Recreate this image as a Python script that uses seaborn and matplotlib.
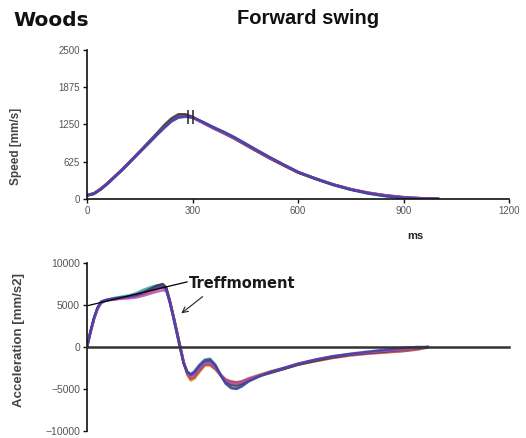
import numpy as np
import pandas as pd
import matplotlib
matplotlib.use("Agg")
import matplotlib.pyplot as plt
import seaborn as sns

# ── Data ──────────────────────────────────────────────────────────────────────
# draw order: last one ends up on top
TRIALS = ["orange", "teal", "red", "black", "magenta", "navy"]
COLORS = ["#d69a3a", "#3a9c9c", "#a8443c", "#333333", "#b84cb8", "#4040a8"]

SPEED_MS = [0, 20, 40, 60, 80, 100, 120, 140, 160, 180, 200, 220, 240, 260, 280,
            300, 330, 360, 390, 420, 450, 480, 520, 560, 600, 650, 700, 750, 800,
            850, 900, 950, 1000]
SPEED = {
    "navy":    [60, 90, 165, 265, 375, 485, 605, 725, 845, 965, 1085, 1200, 1305, 1370, 1385,
                1370, 1290, 1200, 1120, 1030, 930, 830, 700, 575, 455, 340, 240, 160, 95,
                50, 20, 5, 0],
    "teal":    [55, 85, 165, 265, 375, 485, 605, 725, 845, 960, 1080, 1195, 1300, 1365, 1380,
                1365, 1290, 1205, 1125, 1035, 935, 830, 695, 570, 450, 335, 235, 155, 90,
                45, 15, 3, 0],
    "black":   [60, 95, 175, 275, 385, 495, 615, 735, 860, 985, 1110, 1240, 1350, 1420, 1420,
                1375, 1280, 1190, 1105, 1015, 915, 815, 685, 565, 445, 340, 240, 160, 100,
                55, 25, 8, 0],
    "magenta": [65, 95, 170, 270, 380, 490, 610, 730, 850, 970, 1090, 1205, 1310, 1380, 1385,
                1365, 1275, 1185, 1105, 1015, 920, 820, 690, 570, 450, 345, 245, 165, 105,
                60, 30, 12, 0],
    "red":     [60, 90, 170, 275, 385, 495, 615, 735, 855, 975, 1095, 1215, 1325, 1395, 1395,
                1370, 1280, 1185, 1100, 1010, 910, 810, 680, 560, 445, 340, 245, 165, 105,
                60, 30, 12, 2],
    "orange":  [60, 90, 170, 270, 380, 490, 610, 730, 850, 970, 1090, 1215, 1330, 1405, 1405,
                1375, 1280, 1190, 1105, 1015, 915, 815, 685, 565, 445, 340, 240, 160, 100,
                55, 25, 10, 0],
}

ACC_MS = [0, 10, 20, 30, 40, 50, 60, 80, 100, 120, 140, 160, 180, 200, 215, 225, 235,
          245, 255, 265, 275, 285, 295, 305, 320, 335, 350, 365, 380, 395, 410, 425,
          440, 460, 490, 520, 560, 600, 650, 700, 750, 800, 850, 900, 940, 970]
ACC = {
    "navy":    [0, 1900, 3500, 4700, 5400, 5550, 5650, 5800, 5900, 6000, 6200, 6500, 6800, 7100,
                7250, 6900, 5400, 3600, 1700, -200, -2000, -3000, -3300, -3000, -2200, -1600,
                -1500, -2200, -3400, -4400, -4900, -5000, -4700, -4100, -3500, -3000, -2500,
                -2000, -1500, -1100, -800, -550, -300, -100, 0, 0],
    "teal":    [0, 1800, 3400, 4600, 5300, 5550, 5650, 5850, 6000, 6150, 6400, 6800, 7100, 7350,
                7300, 6900, 5500, 3700, 1800, -100, -1900, -2900, -3200, -2900, -2100, -1500,
                -1400, -2100, -3300, -4300, -4800, -4900, -4600, -4000, -3500, -3100, -2600,
                -2100, -1600, -1200, -900, -650, -450, -250, -100, 0],
    "black":   [0, 1800, 3400, 4600, 5300, 5500, 5600, 5750, 5850, 6000, 6200, 6500, 6900, 7300,
                7500, 7100, 5600, 3800, 1900, 0, -1900, -3000, -3400, -3200, -2400, -1800,
                -1700, -2300, -3300, -4100, -4500, -4600, -4400, -3900, -3400, -3100, -2600,
                -2100, -1600, -1200, -900, -700, -500, -300, -150, 0],
    "magenta": [0, 1700, 3300, 4500, 5200, 5450, 5550, 5650, 5750, 5800, 5900, 6100, 6350, 6600,
                6750, 6700, 5400, 3700, 1800, 0, -1800, -3100, -3500, -3300, -2500, -1900,
                -1900, -2500, -3300, -4000, -4300, -4400, -4200, -3800, -3400, -3000, -2500,
                -2000, -1500, -1100, -850, -650, -450, -300, -150, 0],
    "red":     [0, 1800, 3400, 4600, 5300, 5500, 5600, 5700, 5800, 5900, 6050, 6300, 6600, 6900,
                7100, 6900, 5500, 3800, 2000, 100, -1800, -3200, -3800, -3600, -2800, -2100,
                -2100, -2600, -3300, -3900, -4100, -4200, -4100, -3800, -3400, -3000, -2600,
                -2100, -1700, -1300, -1000, -800, -650, -500, -300, -50],
    "orange":  [0, 1800, 3400, 4600, 5300, 5500, 5600, 5750, 5850, 5950, 6100, 6400, 6750, 7100,
                7400, 7100, 5600, 3900, 2000, 100, -1900, -3300, -4000, -3800, -3000, -2200,
                -2200, -2700, -3400, -3900, -4200, -4300, -4100, -3700, -3300, -2900, -2500,
                -2000, -1600, -1200, -900, -700, -550, -400, -200, 0],
}

IMPACT_MS = [288, 300]
IMPACT_SPEED = 1370

SPEED_TICKS = [0, 625, 1250, 1875, 2500]
TIME_TICKS = [0, 300, 600, 900, 1200]
ACC_TICKS = [-10000, -5000, 0, 5000, 10000]

# ── Style ─────────────────────────────────────────────────────────────────────
sns.set_style("white")
plt.rcParams["font.family"] = ["Liberation Sans", "DejaVu Sans"]
TICK = "#555555"
LABEL = "#444444"

speed_df = pd.DataFrame([(t, v, k) for k in TRIALS for t, v in zip(SPEED_MS, SPEED[k])],
                        columns=["ms", "speed", "trial"])
acc_df = pd.DataFrame([(t, v, k) for k in TRIALS for t, v in zip(ACC_MS, ACC[k])],
                      columns=["ms", "acc", "trial"])
palette = dict(zip(TRIALS, COLORS))

fig = plt.figure(figsize=(5.26, 4.38), dpi=100)
fig.patch.set_facecolor("white")

# ── Speed panel ───────────────────────────────────────────────────────────────
ax1 = fig.add_axes([0.1654, 0.5457, 0.8023, 0.3402])
sns.lineplot(data=speed_df, x="ms", y="speed", hue="trial", hue_order=TRIALS,
             palette=palette, estimator=None, sort=False, legend=False,
             lw=1.9, alpha=0.85, ax=ax1)
ax1.vlines(IMPACT_MS, IMPACT_SPEED - 120, IMPACT_SPEED + 120, color="#222222", lw=1.1)
ax1.set_xlim(0, 1200)
ax1.set_ylim(0, 2500)
ax1.set_xticks(TIME_TICKS)
ax1.set_yticks(SPEED_TICKS)
ax1.set_xlabel("")
ax1.set_ylabel("")
for s in ["top", "right"]:
    ax1.spines[s].set_visible(False)
for s in ["left", "bottom"]:
    ax1.spines[s].set_color("#111111")
    ax1.spines[s].set_linewidth(1.2)
ax1.tick_params(axis="both", direction="out", length=3, width=1, color="#111111",
                labelsize=7, labelcolor=TICK, pad=2, left=True, bottom=True)

# ── Acceleration panel ────────────────────────────────────────────────────────
ax2 = fig.add_axes([0.1654, 0.016, 0.8023, 0.3836])
sns.lineplot(data=acc_df, x="ms", y="acc", hue="trial", hue_order=TRIALS,
             palette=palette, estimator=None, sort=False, legend=False,
             lw=1.8, alpha=0.85, ax=ax2)
ax2.set_xlim(0, 1200)
ax2.set_ylim(-10000, 10000)
ax2.set_yticks(ACC_TICKS)
ax2.set_xticks([])
ax2.set_xlabel("")
ax2.set_ylabel("")
for s in ["top", "right"]:
    ax2.spines[s].set_visible(False)
ax2.spines["bottom"].set_position(("data", 0))
ax2.spines["bottom"].set_color("#333333")
ax2.spines["bottom"].set_linewidth(1.8)
ax2.spines["left"].set_color("#111111")
ax2.spines["left"].set_linewidth(1.2)
ax2.tick_params(axis="y", direction="out", length=3, width=1, color="#111111",
                labelsize=7.5, labelcolor=TICK, pad=2, left=True)

# Treffmoment annotation
ax2.plot([0, 285], [4900, 7750], color="black", lw=0.9)
ax2.text(290, 7600, "Treffmoment", family="DejaVu Sans", fontweight="bold",
         fontsize=10.5, color="#1a1a1a", va="center", ha="left")
ax2.annotate("", xy=(262, 3800), xytext=(335, 6200),
             arrowprops=dict(arrowstyle="->", lw=0.8, color="#222222"))

# ── Titles and labels ─────────────────────────────────────────────────────────
fig.text(0.025, 1 - 21 / 438, "Woods", family="DejaVu Sans", fontweight="bold",
         fontsize=14.5, color="#111111", va="center", ha="left")
fig.text(308 / 526, 1 - 19 / 438, "Forward swing", fontweight="bold",
         fontsize=14.5, color="#111111", va="center", ha="center")
fig.text(415 / 526, 1 - 236 / 438, "ms", fontweight="bold", fontsize=8,
         color="#222222", va="center", ha="center")
fig.text(16 / 526, 1 - 146 / 438, "Speed [mm/s]", fontweight="bold", fontsize=8.5,
         color=LABEL, rotation=90, va="center", ha="center")
fig.text(19 / 526, 1 - 340 / 438, "Acceleration [mm/s2]", fontweight="bold", fontsize=9.5,
         color=LABEL, rotation=90, va="center", ha="center")

fig.savefig("out.png", dpi=100, facecolor="white")
